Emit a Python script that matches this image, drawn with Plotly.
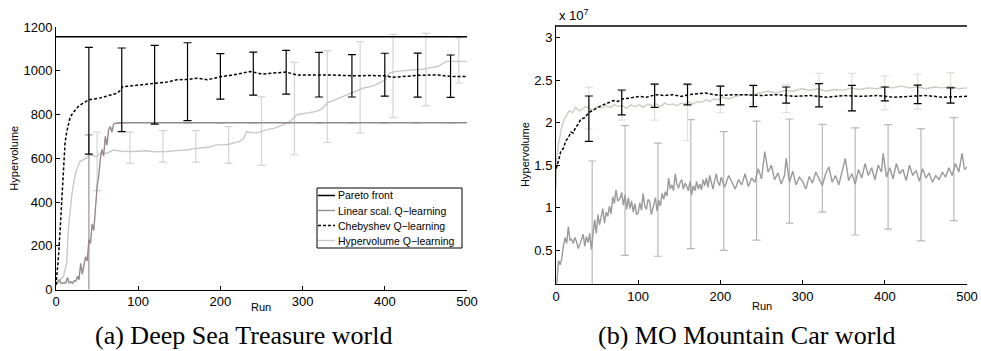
import plotly.graph_objects as go

W, H = 981, 351

# ---------------- (a) Deep Sea Treasure world ----------------
DST_PARETO = 1155
DST_LIN_RUNS = [0, 2, 4, 6, 8, 10, 12, 14, 16, 18, 20, 22, 24, 26, 28, 30, 32, 34, 36, 38, 40, 42, 44, 46,
                48, 50, 52, 54, 56, 58, 60, 62, 64, 66, 68, 70, 72, 75, 80, 90, 500]
DST_LIN_VALS = [30, 28, 45, 30, 28, 32, 30, 55, 30, 35, 28, 40, 38, 60, 45, 120, 70, 110, 150, 130, 227, 210,
                300, 270, 380, 470, 520, 600, 640, 610, 700, 660, 730, 745, 720, 755, 760, 762, 762, 762, 762]
DST_CHEB_RUNS = [0, 1, 3, 5, 7, 9, 11, 13, 15, 17, 20, 24, 27, 32, 36, 40, 45, 50, 54, 60, 66, 72, 75, 78, 81,
                 90, 102, 110, 120, 135, 147, 160, 172, 184, 195, 202, 215, 236, 250, 265, 280, 293, 310, 320,
                 340, 360, 380, 400, 410, 425, 440, 463, 480, 500]
DST_CHEB_VALS = [20, 59, 150, 272, 394, 532, 669, 720, 750, 784, 805, 825, 836, 850, 858, 867, 870, 872, 876,
                 882, 890, 895, 898, 910, 927, 930, 936, 938, 943, 948, 959, 960, 966, 959, 968, 974, 980, 997,
                 985, 990, 994, 981, 983, 981, 980, 977, 978, 977, 970, 975, 979, 981, 974, 974]
DST_HV_RUNS = [0, 1, 5, 9, 11, 13, 15, 17, 19, 22, 25, 29, 33, 37, 41, 49, 54, 62, 70, 80, 94, 110, 120, 135,
               150, 159, 170, 185, 195, 205, 212, 218, 224, 228, 232, 240, 244, 256, 266, 276, 285, 293, 305,
               317, 325, 330, 340, 354, 364, 374, 385, 394, 400, 406, 414, 425, 439, 448, 455, 465, 475, 490, 500]
DST_HV_VALS = [30, 36, 45, 59, 90, 120, 272, 350, 425, 500, 547, 585, 592, 600, 615, 608, 623, 623, 638, 632,
               631, 634, 630, 631, 636, 638, 645, 650, 661, 661, 665, 672, 678, 690, 722, 716, 716, 730, 738,
               753, 770, 799, 805, 814, 830, 853, 868, 890, 905, 921, 930, 944, 960, 990, 997, 1000, 1004,
               1008, 1013, 1020, 1043, 1043, 1043]

DST_BAR_RUNS = [40, 80, 120, 160, 200, 240, 280, 320, 360, 400, 440, 480]
DST_CHEB_BAR_MEAN = [863, 913, 936, 950, 974, 987, 993, 982, 977, 982, 980, 975]
DST_CHEB_BAR_STD = [244, 191, 180, 178, 104, 98, 100, 102, 97, 98, 101, 97]
DST_LIN_BAR_MEAN = [227, 762, 762, 762, 762, 762, 762, 762, 762, 762, 762, 762]
DST_LIN_BAR_STD = [480, 0, 0, 0, 0, 0, 0, 0, 0, 0, 0, 0]
DST_HV_BAR_RUNS = [50, 90, 130, 170, 210, 250, 290, 330, 370, 410, 450, 490]
DST_HV_BAR_MEAN = [586, 648, 654, 654, 661, 724, 827, 882, 924, 976, 1006, 1047]
DST_HV_BAR_STD = [134, 71, 72, 72, 84, 157, 211, 210, 209, 190, 165, 103]

# ---------------- (b) MO Mountain Car world (values in units of 10^7) ----------------
MC_PARETO = 3.136
MC_LIN_RUNS = [1, 3, 5, 7, 9, 11, 13, 15, 17, 19, 21, 23, 25, 27, 29, 31, 33, 35, 37, 39, 41, 43, 45, 47, 49,
               51, 53, 55, 57, 59, 61, 63, 65, 67, 69, 71, 73, 75, 78, 80, 82, 84, 86, 88, 90, 92, 94, 96, 98,
               100, 102, 104, 106, 108, 110, 112, 114, 116, 119, 121, 123, 125, 127, 129, 131, 133, 135, 137,
               139, 141, 143, 145, 147, 149, 151, 153, 155, 157, 159, 161, 163, 165, 167, 169, 171, 173, 175,
               177, 179, 181, 183, 185, 187, 189, 191, 193, 195, 197, 199, 201, 203, 205, 207,
               210, 214, 218, 222, 226, 230, 234, 238, 242, 246, 250, 254, 258, 262, 266, 270, 274, 278, 280,
               284, 288, 292, 296, 300, 304, 308, 312, 316, 320, 324, 328, 332, 336, 340, 344, 348, 352, 356,
               360, 364, 368, 372, 376, 380, 384, 388, 392, 396, 398, 402, 406, 410, 414, 418, 422, 426, 430,
               434, 438, 442, 446, 450, 454, 458, 462, 466, 470, 474, 478, 482, 486, 490, 494, 497, 500]
MC_LIN_VALS = [0.11, 0.38, 0.33, 0.40, 0.55, 0.65, 0.58, 0.78, 0.62, 0.63, 0.58, 0.65, 0.60, 0.52, 0.57, 0.62,
               0.69, 0.55, 0.66, 0.59, 0.70, 0.51, 0.72, 0.86, 0.70, 0.92, 0.80, 0.88, 0.99, 0.82, 0.95, 0.90,
               1.02, 0.93, 1.13, 1.05, 1.21, 1.08, 1.11, 1.18, 1.03, 1.15, 0.98, 1.12, 0.99, 1.08, 0.95, 1.05,
               0.92, 0.94, 1.06, 0.97, 1.17, 1.02, 0.98, 1.10, 1.07, 0.92, 1.03, 1.12, 0.96, 1.09, 1.02, 1.17,
               1.10, 1.19, 1.14, 1.35, 1.22, 1.27, 1.20, 1.40, 1.28, 1.23, 1.30, 1.33, 1.22, 1.29, 1.25, 1.20,
               1.31, 1.15, 1.26, 1.20, 1.31, 1.22, 1.28, 1.21, 1.33, 1.26, 1.35, 1.24, 1.38, 1.29, 1.22, 1.32,
               1.40, 1.30, 1.26, 1.36, 1.31, 1.24, 1.29,
               1.38, 1.30, 1.22, 1.33, 1.27, 1.40, 1.25, 1.35, 1.30, 1.46, 1.34, 1.66, 1.42, 1.50, 1.33, 1.41,
               1.28, 1.38, 1.58, 1.30, 1.43, 1.27, 1.36, 1.31, 1.22, 1.37, 1.29, 1.42, 1.33, 1.26, 1.40, 1.48,
               1.30, 1.38, 1.27, 1.44, 1.58, 1.32, 1.40, 1.28, 1.45, 1.35, 1.52, 1.38, 1.47, 1.33, 1.50, 1.42,
               1.64, 1.36, 1.47, 1.34, 1.52, 1.40, 1.45, 1.32, 1.50, 1.38, 1.44, 1.31, 1.46, 1.35, 1.41, 1.30,
               1.38, 1.33, 1.42, 1.36, 1.47, 1.38, 1.52, 1.42, 1.64, 1.45, 1.48]
MC_CHEB_RUNS = [0, 3, 6, 9, 12, 15, 18, 21, 24, 27, 30, 35, 40, 45, 50, 55, 60, 65, 70, 75, 81, 90, 101, 110,
                122, 132, 142, 152, 162, 172, 182, 192, 203, 215, 230, 250, 270, 290, 310, 330, 350, 370, 390,
                410, 430, 450, 470, 490, 500]
MC_CHEB_VALS = [1.46, 1.55, 1.67, 1.70, 1.79, 1.82, 1.89, 1.88, 1.95, 1.98, 2.04, 2.06, 2.12, 2.15, 2.18, 2.20,
                2.22, 2.24, 2.26, 2.25, 2.28, 2.29, 2.31, 2.30, 2.33, 2.32, 2.33, 2.31, 2.33, 2.34, 2.35, 2.33,
                2.32, 2.33, 2.33, 2.32, 2.33, 2.31, 2.32, 2.30, 2.32, 2.31, 2.32, 2.30, 2.31, 2.32, 2.30, 2.31,
                2.31]
MC_HV_RUNS = [0, 1, 3, 5, 7, 10, 13, 16, 20, 24, 28, 32, 36, 40, 45, 50, 55, 61, 66, 71, 76, 81, 86, 91, 96,
              101, 106, 112, 117, 122, 127, 132, 137, 142, 147, 152, 157, 162, 167, 172, 177, 182, 187, 192,
              197, 203, 210, 219, 228, 238, 248, 258, 268, 278, 288, 299, 309, 319, 329, 339, 349, 359, 369,
              380, 390, 400, 410, 420, 430, 440, 450, 461, 470, 480, 490, 500]
MC_HV_VALS = [1.22, 1.60, 1.75, 1.85, 1.95, 2.04, 2.10, 2.14, 2.12, 2.18, 2.14, 2.16, 2.19, 2.17, 2.15, 2.19,
              2.17, 2.20, 2.18, 2.21, 2.19, 2.20, 2.17, 2.21, 2.19, 2.21, 2.18, 2.22, 2.20, 2.22, 2.19, 2.23,
              2.21, 2.22, 2.20, 2.23, 2.22, 2.24, 2.22, 2.25, 2.24, 2.27, 2.25, 2.28, 2.27, 2.30, 2.28, 2.31,
              2.33, 2.32, 2.35, 2.37, 2.35, 2.38, 2.37, 2.40, 2.38, 2.40, 2.37, 2.39, 2.38, 2.41, 2.39, 2.41,
              2.40, 2.42, 2.41, 2.43, 2.41, 2.42, 2.40, 2.42, 2.41, 2.43, 2.40, 2.41]

MC_BAR_RUNS = [40, 80, 120, 160, 200, 240, 280, 320, 360, 400, 440, 480]
MC_CHEB_BAR_MEAN = [2.047, 2.239, 2.317, 2.332, 2.320, 2.315, 2.325, 2.323, 2.290, 2.338, 2.333, 2.320]
MC_CHEB_BAR_STD = [0.267, 0.146, 0.137, 0.122, 0.110, 0.125, 0.095, 0.137, 0.150, 0.082, 0.108, 0.090]
MC_HV_BAR_MEAN = [2.17, 2.20, 2.245, 2.115, 2.28, 2.32, 2.285, 2.44, 2.36, 2.35, 2.365, 2.415]
MC_HV_BAR_STD = [0.245, 0.17, 0.215, 0.325, 0.16, 0.10, 0.165, 0.14, 0.22, 0.20, 0.205, 0.175]
MC_LIN_BAR_RUNS = [44, 84, 124, 164, 204, 244, 284, 324, 364, 404, 444, 484]
MC_LIN_BAR_MEAN = [0.60, 1.203, 1.095, 1.278, 1.198, 1.32, 1.432, 1.465, 1.31, 1.364, 1.27, 1.455]
MC_LIN_BAR_STD = [0.95, 0.763, 0.665, 0.758, 0.698, 0.70, 0.612, 0.515, 0.63, 0.614, 0.66, 0.605]

SERIES = ["Pareto front", "Linear scal. Q\u2212learning", "Chebyshev Q\u2212learning", "Hypervolume Q\u2212learning"]
X_TICKS = [0, 100, 200, 300, 400, 500]
DST_Y_TICKS = [0, 200, 400, 600, 800, 1000, 1200]
MC_Y_TICKS = [0.5, 1, 1.5, 2, 2.5, 3]
MC_Y_TICKTEXT = ["0.5", "1", "1.5", "2", "2.5", "3"]
CAPTIONS = ["(a) Deep Sea Treasure world", "(b) MO Mountain Car world"]

# styles
C_LIN_A = "#958a8c"
C_HV_A = "#c8c8c8"
C_HVBAR_A = "#d4d4d4"
C_LIN_B = "#9a9a9a"
C_LINBAR_B = "#b8b8b8"
C_HV_B = "#cfcac3"
C_HVBAR_B = "#e2dfda"
DOT = "3px,2px"
SANS = "Liberation Sans, Arial, sans-serif"
SERIF = "Liberation Serif, Times New Roman, serif"


def px(x):
    return x / W


def py(y):
    return 1 - y / H


def line(x, y, color, width, xa, ya, dash=None):
    return go.Scatter(x=x, y=y, mode="lines", xaxis=xa, yaxis=ya, showlegend=False, hoverinfo="skip",
                      line=dict(color=color, width=width, dash=dash))


def bars(x, mean, std, color, xa, ya, thick=1.2):
    return go.Scatter(x=x, y=mean, mode="markers", xaxis=xa, yaxis=ya, showlegend=False, hoverinfo="skip",
                      marker=dict(size=1, color="rgba(0,0,0,0)"),
                      error_y=dict(type="data", array=std, symmetric=True, color=color,
                                   thickness=thick, width=4))


fig = go.Figure()
# panel (a)
fig.add_trace(bars(DST_HV_BAR_RUNS, DST_HV_BAR_MEAN, DST_HV_BAR_STD, C_HVBAR_A, "x", "y"))
fig.add_trace(line(DST_HV_RUNS, DST_HV_VALS, C_HV_A, 1.4, "x", "y"))
fig.add_trace(bars(DST_BAR_RUNS, DST_LIN_BAR_MEAN, DST_LIN_BAR_STD, "#a8a0a0", "x", "y", 1.4))
fig.add_trace(line(DST_LIN_RUNS, DST_LIN_VALS, C_LIN_A, 1.4, "x", "y"))
fig.add_trace(line(DST_CHEB_RUNS, DST_CHEB_VALS, "black", 1.5, "x", "y", DOT))
fig.add_trace(bars(DST_BAR_RUNS, DST_CHEB_BAR_MEAN, DST_CHEB_BAR_STD, "black", "x", "y"))
fig.add_trace(line([0, 500], [DST_PARETO, DST_PARETO], "black", 1.5, "x", "y"))
# panel (b)
fig.add_trace(bars(MC_LIN_BAR_RUNS, MC_LIN_BAR_MEAN, MC_LIN_BAR_STD, C_LINBAR_B, "x2", "y2"))
fig.add_trace(line(MC_LIN_RUNS, MC_LIN_VALS, C_LIN_B, 1.4, "x2", "y2"))
fig.add_trace(bars(MC_BAR_RUNS, MC_HV_BAR_MEAN, MC_HV_BAR_STD, C_HVBAR_B, "x2", "y2"))
fig.add_trace(line(MC_HV_RUNS, MC_HV_VALS, C_HV_B, 1.4, "x2", "y2"))
fig.add_trace(line(MC_CHEB_RUNS, MC_CHEB_VALS, "black", 1.5, "x2", "y2", DOT))
fig.add_trace(bars(MC_BAR_RUNS, MC_CHEB_BAR_MEAN, MC_CHEB_BAR_STD, "black", "x2", "y2"))
fig.add_trace(line([0, 500], [MC_PARETO, MC_PARETO], "black", 1.5, "x2", "y2"))

axis_common = dict(showline=True, linecolor="black", linewidth=1, ticks="inside", ticklen=4,
                   tickcolor="black", tickwidth=1, showgrid=False, zeroline=False, automargin=False,
                   tickfont=dict(family=SANS, size=13, color="black"))
ytitle = dict(text="Hypervolume", font=dict(family=SANS, size=11, color="black"), standoff=2)

fig.update_layout(
    width=W, height=H, margin=dict(l=0, r=0, t=0, b=0, autoexpand=False),
    paper_bgcolor="white", plot_bgcolor="white", showlegend=False,
    xaxis=dict(domain=[px(56), px(467)], range=[0, 500], tickvals=X_TICKS, anchor="y", **axis_common),
    yaxis=dict(domain=[py(289.5), py(27)], range=[0, 1200], tickvals=DST_Y_TICKS, anchor="x",
               title=ytitle, **axis_common),
    xaxis2=dict(domain=[px(556), px(967)], range=[0, 500], tickvals=X_TICKS, anchor="y2", **axis_common),
    yaxis2=dict(domain=[py(284), py(25)], range=[0.104, 3.149], tickvals=MC_Y_TICKS, ticktext=MC_Y_TICKTEXT,
                anchor="x2", title=ytitle, **axis_common),
)

ann = []
small = dict(family=SANS, size=11, color="black")
ann.append(dict(x=px(261), y=py(307), text="Run", font=small))
ann.append(dict(x=px(762), y=py(306), text="Run", font=small))
ann.append(dict(x=px(557), y=py(15), text="x 10<sup>7</sup>", xanchor="left",
                font=dict(family=SANS, size=13, color="black")))
ann.append(dict(x=px(243), y=py(335), text=CAPTIONS[0], font=dict(family=SERIF, size=26, color="black")))
ann.append(dict(x=px(747), y=py(335), text=CAPTIONS[1], font=dict(family=SERIF, size=26, color="black")))

# legend (panel a)
shapes = [dict(type="rect", xref="paper", yref="paper", x0=px(317), x1=px(462), y0=py(248), y1=py(188),
               line=dict(color="black", width=1), fillcolor="white", layer="above")]
leg_styles = [("black", None, 1.5), (C_LIN_A, None, 1.4), ("black", DOT, 1.5), (C_HV_A, None, 1.4)]
leg_y = [195.5, 210.5, 225.5, 240.5]
for name, (c, d, w), yy in zip(SERIES, leg_styles, leg_y):
    shapes.append(dict(type="line", xref="paper", yref="paper", x0=px(318), x1=px(335), y0=py(yy), y1=py(yy),
                       line=dict(color=c, width=w, dash=d), layer="above"))
    ann.append(dict(x=px(336), y=py(yy), text=name, xanchor="left", font=dict(family=SANS, size=10.5,
                                                                            color="black")))

for a in ann:
    a.setdefault("xref", "paper")
    a.setdefault("yref", "paper")
    a.setdefault("showarrow", False)
    a.setdefault("xanchor", "center")
    a.setdefault("yanchor", "middle")
fig.update_layout(annotations=ann, shapes=shapes)

fig.write_html("out.html", config={"displayModeBar": False, "staticPlot": True},
               post_script="document.body.style.margin='0';document.body.style.overflow='hidden';")
